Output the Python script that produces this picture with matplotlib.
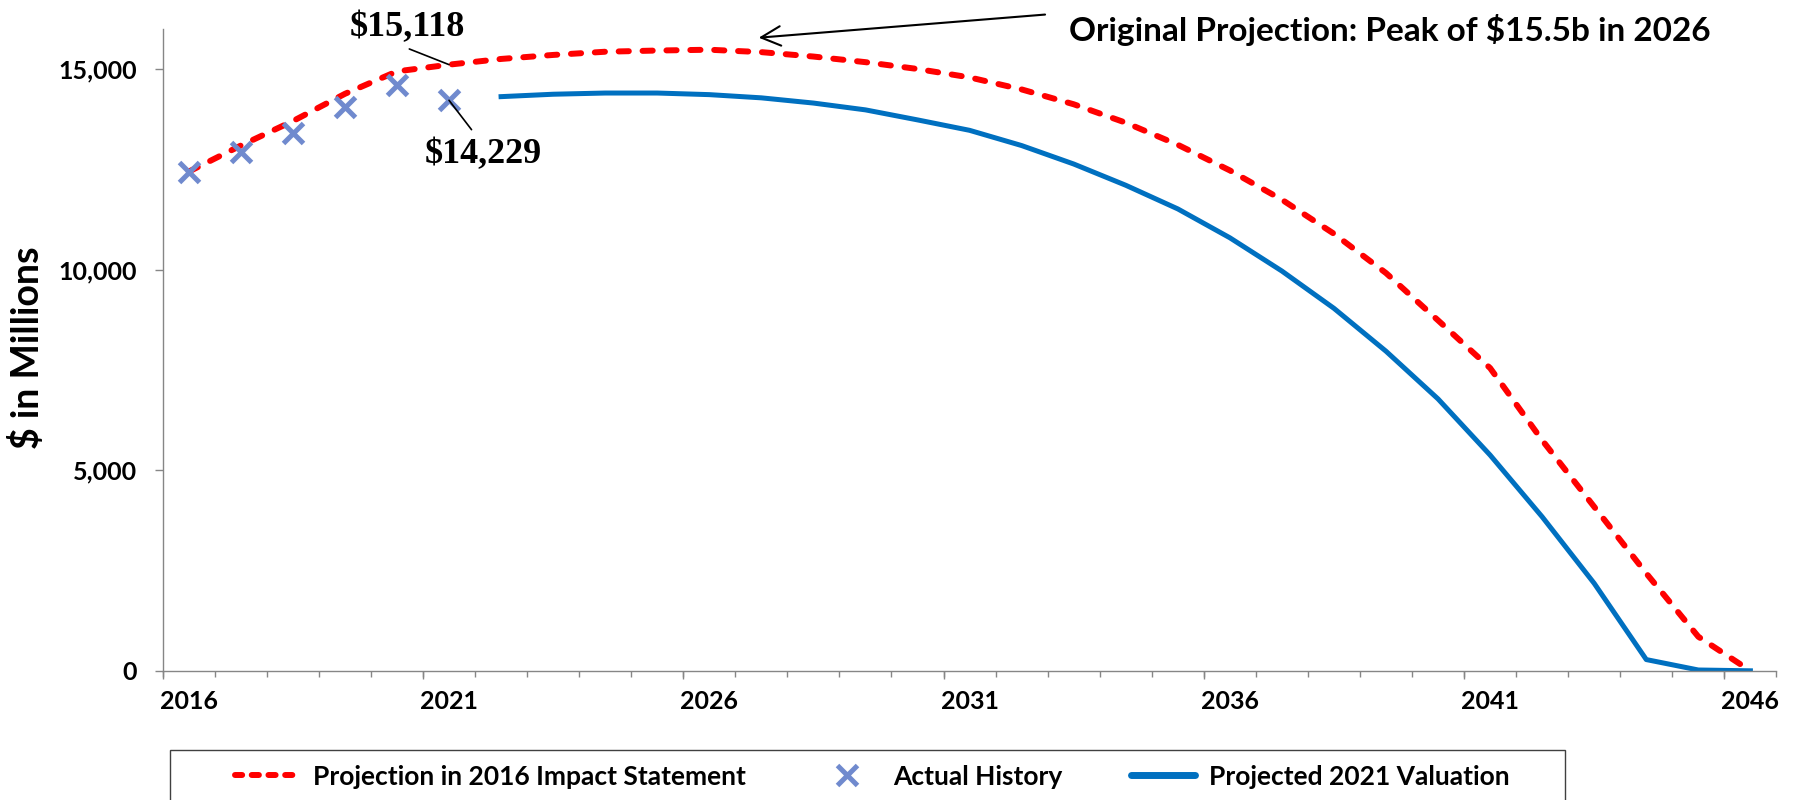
import numpy as np
import matplotlib.pyplot as plt
from matplotlib.lines import Line2D
from matplotlib.patches import Rectangle
from matplotlib.ticker import FuncFormatter

# data ($ millions)
years = list(range(2016, 2047))
projection_2016 = [12450, 13100, 13710, 14390, 14950, 15118, 15260, 15360, 15440, 15470,
                   15490, 15430, 15320, 15180, 15010, 14800, 14500, 14130, 13670, 13120,
                   12480, 11750, 10900, 9920, 8740, 7550, 5750, 4090, 2430, 850, 0]
actual_years = [2016, 2017, 2018, 2019, 2020, 2021]
actual_history = [12440, 12940, 13410, 14070, 14610, 14229]
valuation_years = list(range(2022, 2047))
valuation_2021 = [14320, 14380, 14410, 14410, 14370, 14290, 14160, 13990, 13740, 13480,
                  13100, 12640, 12110, 11520, 10800, 9970, 9040, 7970, 6780, 5380,
                  3840, 2180, 280, 20, 0]
year_labels = [str(y) for y in range(2016, 2047, 5)]

SANS = "Lato"
SERIF = "Liberation Serif"
RED = "#FF0000"
BLUE = "#0070C0"
XCOL = "#708ACE"
AXCOL = "#868686"

plt.rcParams["font.family"] = [SANS, "DejaVu Sans"]
plt.rcParams["font.weight"] = "bold"

fig = plt.figure(figsize=(17.98, 8.0), dpi=100)
ax = fig.add_axes([0.0905, 0.1615, 0.8975, 0.8019])

# categories sit at index positions, like a category axis
idx = {y: i for i, y in enumerate(years)}
x_proj = [idx[y] for y in years]
x_act = [idx[y] for y in actual_years]
x_val = [idx[y] for y in valuation_years]

ax.plot(x_proj, projection_2016, color=RED, lw=4.3, dashes=(1.7, 2.3),
        dash_capstyle="round", zorder=2)
ax.plot(x_act, actual_history, ls="none", marker="x", ms=15, mew=3.6,
        color=XCOL, zorder=3)
ax.plot(x_val, valuation_2021, color=BLUE, lw=3.6, zorder=2)

ax.set_xlim(-0.5, len(years) - 0.5)
ax.set_ylim(0, 16000)

for s in ["top", "right"]:
    ax.spines[s].set_visible(False)
for s in ["left", "bottom"]:
    ax.spines[s].set_color(AXCOL)
    ax.spines[s].set_linewidth(1.0)

ax.set_yticks([0, 5000, 10000, 15000])
ax.yaxis.set_major_formatter(FuncFormatter(lambda v, p: f"{int(v):,}"))
ax.tick_params(axis="y", direction="out", length=5.5, width=1, color=AXCOL,
               pad=13, labelsize=18)

ax.set_xticks(range(0, len(years), 5), year_labels)
ax.tick_params(axis="x", which="major", length=0, pad=14, labelsize=18)
ax.set_xticks(np.arange(-0.5, len(years), 1), minor=True)
ax.tick_params(axis="x", which="minor", direction="out", length=4, width=1, color=AXCOL)
sec = ax.secondary_xaxis("bottom")
sec.set_xticks(np.arange(-0.5, len(years), 5), labels=[])
sec.tick_params(direction="out", length=6, width=1, color=AXCOL)
sec.spines["bottom"].set_visible(False)

ax.set_ylabel("$ in Millions", fontsize=27, fontweight="bold")
ax.yaxis.set_label_coords(-0.073, 0.503)

# callouts
ax.annotate("$15,118", xy=(idx[2021], 15118), xytext=(-30, 27), textcoords="offset points",
            ha="center", va="center", fontsize=26, family=SERIF, fontweight="bold",
            arrowprops=dict(arrowstyle="-", color="black", lw=1.2, relpos=(0.4, 0),
                            shrinkA=5, shrinkB=0))
ax.annotate("$14,229", xy=(idx[2021], 14229), xytext=(25, -39), textcoords="offset points",
            ha="center", va="center", fontsize=26, family=SERIF, fontweight="bold",
            arrowprops=dict(arrowstyle="-", color="black", lw=1.2, relpos=(0.45, 1),
                            shrinkA=5, shrinkB=0))
ax.annotate("", xy=(10.95, 15790), xytext=(16.45, 16367), annotation_clip=False,
            arrowprops=dict(arrowstyle="->,head_length=0.7,head_width=0.35",
                            mutation_scale=20, color="black", lw=1.5,
                            shrinkA=0, shrinkB=0))
ax.text(23.07, 15970, "Original Projection: Peak of $15.5b in 2026", ha="center",
        va="center", fontsize=24, fontweight="bold", clip_on=False)

# legend with a box that runs off the bottom edge
handles = [
    Line2D([], [], color=RED, lw=4.3, dashes=(1.2, 1.6), dash_capstyle="round"),
    Line2D([], [], ls="none", marker="x", ms=14, mew=3.6, color=XCOL),
    Line2D([], [], color=BLUE, lw=5, solid_capstyle="round"),
]
labels = ["Projection in 2016 Impact Statement", "Actual History", "Projected 2021 Valuation"]
fig.legend(handles, labels, loc="center left", bbox_to_anchor=(0.1307, 0.0291), ncol=3,
           frameon=False, fontsize=19, handlelength=2.46, handletextpad=0.5,
           columnspacing=2.6, borderpad=0, borderaxespad=0)
fig.patches.append(Rectangle((170 / 1798, -0.05), 1395 / 1798, 0.05 + 50 / 800,
                             transform=fig.transFigure, fill=False, edgecolor="#404040",
                             lw=1.0, clip_on=False))

fig.savefig("out.png", dpi=100)
